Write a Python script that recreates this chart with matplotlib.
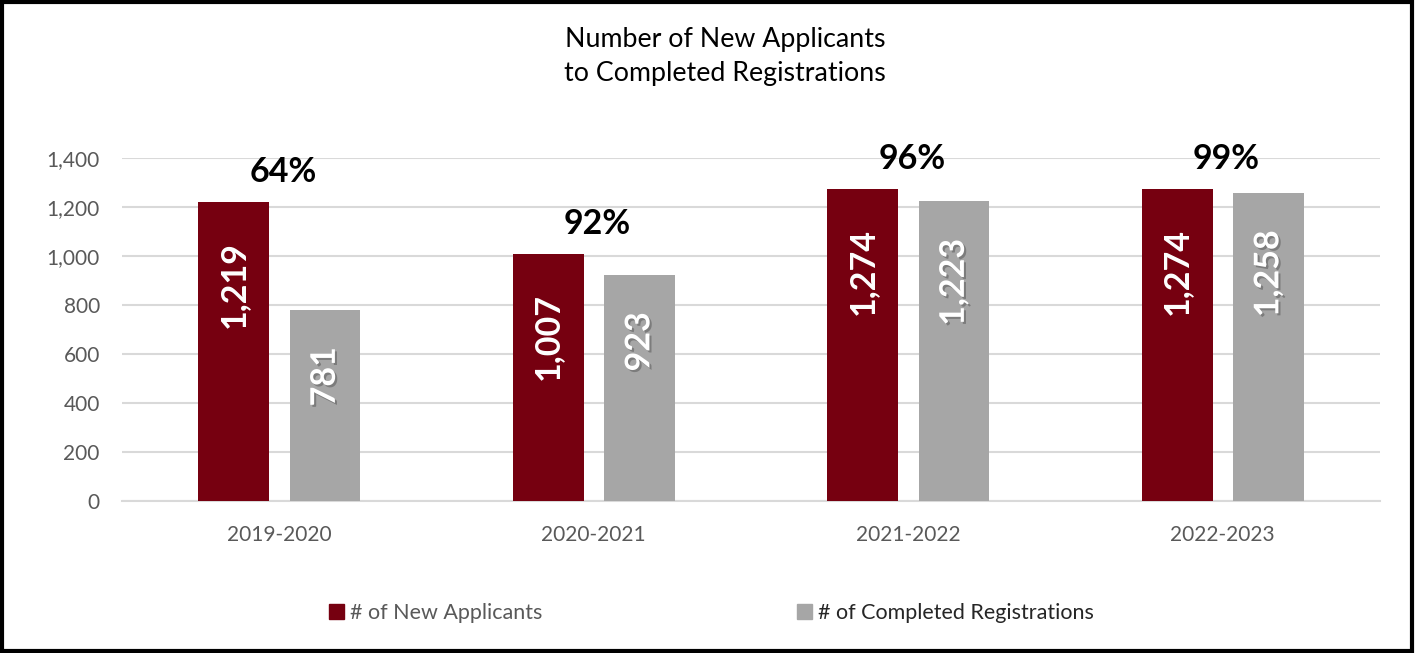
import matplotlib
matplotlib.use("Agg")
import matplotlib.pyplot as plt
import matplotlib.patheffects as pe
from matplotlib.patches import Rectangle, Patch
import numpy as np

# data
years = ["2019-2020", "2020-2021", "2021-2022", "2022-2023"]
new_applicants = [1219, 1007, 1274, 1274]
completed = [781, 923, 1223, 1258]
pct_labels = ["64%", "92%", "96%", "99%"]

RED = "#760010"
GRAY = "#A6A6A6"
GRID = "#D9D9D9"
TXT = "#595959"

plt.rcParams["font.family"] = ["Lato", "DejaVu Sans"]

fig = plt.figure(figsize=(14.16, 6.53), dpi=100)
ax = fig.add_axes([0.0862, 0.2328, 0.8884, 0.5253])

x = np.arange(len(years))
w = 0.225
off = 0.145
b1 = ax.bar(x - off, new_applicants, w, color=RED, zorder=3)
b2 = ax.bar(x + off, completed, w, color=GRAY, zorder=3)

ax.set_xlim(-0.5, len(years) - 0.5)
ax.set_ylim(0, 1400)
ax.set_yticks(range(0, 1401, 200))
ax.yaxis.set_major_formatter(matplotlib.ticker.FuncFormatter(lambda v, p: f"{int(v):,}"))
ax.set_xticks(x)
ax.set_xticklabels(years)
ax.tick_params(axis="both", length=0, labelsize=15, labelcolor=TXT)
ax.tick_params(axis="y", pad=16)
ax.tick_params(axis="x", pad=17)
ax.grid(axis="y", color=GRID, linewidth=1.5, zorder=0)
for s in ["top", "right", "left"]:
    ax.spines[s].set_visible(False)
ax.spines["bottom"].set_color(GRID)
ax.spines["bottom"].set_linewidth(1.5)

# value labels inside bars
for rect, v in zip(b1, new_applicants):
    ax.annotate(f"{v:,}", (rect.get_x() + rect.get_width() / 2, v),
                xytext=(0, -28), textcoords="offset points", rotation=90,
                ha="center", va="top", color="white", fontsize=24.5,
                fontweight="bold", zorder=5)
for rect, v in zip(b2, completed):
    ax.annotate(f"{v:,}", (rect.get_x() + rect.get_width() / 2, v),
                xytext=(0, -27), textcoords="offset points", rotation=90,
                ha="center", va="top", color="white", fontsize=24.5,
                fontweight="bold", zorder=5,
                path_effects=[pe.withSimplePatchShadow(offset=(1.5, -1.5),
                                                       shadow_rgbFace="#606060",
                                                       alpha=0.6)])

# percent labels
for xi, v, lab in zip(x, new_applicants, pct_labels):
    ax.annotate(lab, (xi + 0.012, v), xytext=(0, 21.5), textcoords="offset points",
                ha="center", va="center", color="black", fontsize=24.5,
                fontweight="bold", zorder=5)

fig.text(0.512, 0.913, "Number of New Applicants\nto Completed Registrations",
         ha="center", va="center", fontsize=19.3, color="black", linespacing=1.45)

handles = [Patch(color=RED), Patch(color=GRAY)]
leg = fig.legend(handles, ["# of New Applicants", "# of Completed Registrations"],
                 loc="center", bbox_to_anchor=(0.5025, 0.0613), ncol=2,
                 frameon=False, fontsize=15.5, handlelength=0.7, handleheight=0.7,
                 handletextpad=0.3, columnspacing=11.8)
texts = leg.get_texts()
texts[0].set_color(TXT)
texts[1].set_color("#262626")

fig.patches.append(Rectangle((0.0015, 0.003), 0.996, 0.994, transform=fig.transFigure,
                             fill=False, edgecolor="black", linewidth=3))

fig.savefig("out.png", dpi=100)
